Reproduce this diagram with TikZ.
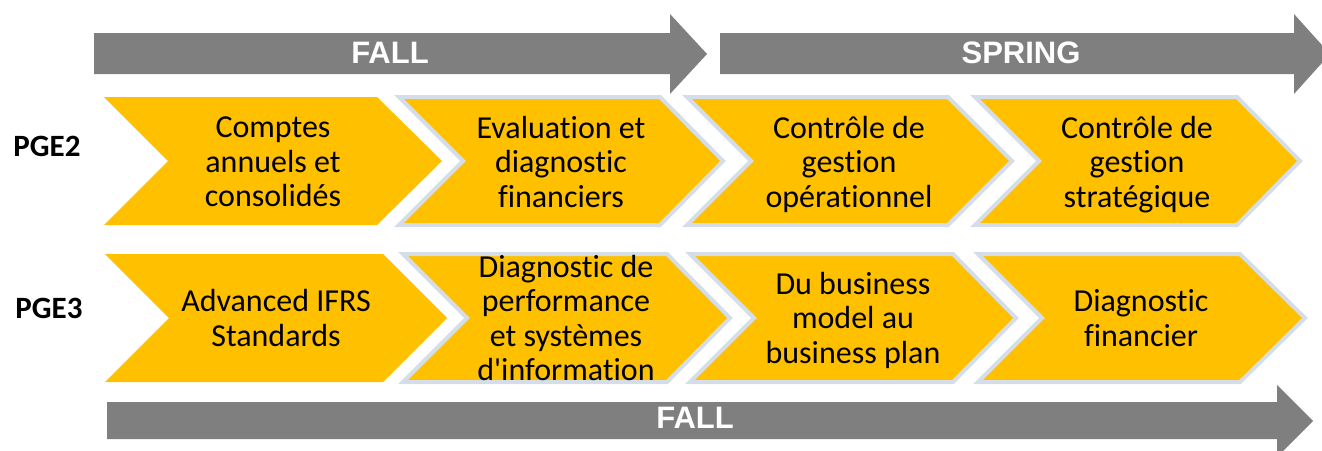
\documentclass[tikz,border=0pt]{standalone}
\usepackage{fontspec}
\setmainfont{Carlito}[Ligatures=CommonOff]
\newfontfamily\headfont{Liberation Sans}
\usepackage{xcolor}
\usetikzlibrary{positioning}
\definecolor{gold}{HTML}{FFC000}
\definecolor{bargray}{HTML}{7F7F7F}
\definecolor{edgeblue}{HTML}{D5DEE8}

\begin{document}
\begin{tikzpicture}[x=1pt, y=-1pt,
    chev/.style={fill=gold},
    chevedge/.style={fill=gold, draw=edgeblue, line width=4pt},
    bar/.style={fill=bargray},
    course/.style={align=center, inner sep=0pt, font=\fontsize{32}{34.5}\selectfont,
      execute at begin node=\strut, execute at end node=\strut},
    season/.style={text=white, inner sep=0pt, font=\headfont\bfseries\fontsize{31}{34}\selectfont},
    year/.style={inner sep=0pt, font=\bfseries\fontsize{31}{34}\selectfont}]
    \useasboundingbox (0,0) rectangle (1322,450);

    % semesters
    \fill[bar] (94,33) -- (670,33) -- (670,14) -- (707,54) -- (670,94) -- (670,74) -- (94,74) -- cycle;
    \fill[bar] (720,33) -- (1294,33) -- (1294,14) -- (1330,54) -- (1294,94) -- (1294,74) -- (720,74) -- cycle;
    \fill[bar] (107,402) -- (1277,402) -- (1277,385) -- (1313,421) -- (1277,457) -- (1277,439) -- (107,439) -- cycle;
    \node [season] (fall1) at (390,53) {FALL};
    \node [season] (spring) at (1021,53) {SPRING};
    \node [season] (fall2) at (695,418) {FALL};

    % PGE2
    \node [year] (pge2) at (47,146) {PGE2};
    \path[chev] (104,97) -- (377,97) -- (442,161) -- (377,225) -- (104,225) -- (168,161) -- cycle;
    \path[chevedge] (399,97) -- (660,97) -- (723,161) -- (660,225) -- (399,225) -- (463,161) -- cycle;
    \path[chevedge] (687,97) -- (948,97) -- (1012,161) -- (948,225) -- (687,225) -- (751,161) -- cycle;
    \path[chevedge] (975,97) -- (1237,97) -- (1300,161) -- (1237,225) -- (975,225) -- (1039,161) -- cycle;
    \node [course] (a1) at (273,167) {Comptes\\annuels et\\consolidés};
    \node [course] (a2) at (561,167) {Evaluation et\\diagnostic\\financiers};
    \node [course] (a3) at (849,167) {Contrôle de\\gestion\\opérationnel};
    \node [course] (a4) at (1137,167) {Contrôle de\\gestion\\stratégique};

    % PGE3
    \node [year] (pge3) at (49,308) {PGE3};
    \path[chev] (105,254) -- (383,254) -- (447,318) -- (383,382) -- (105,382) -- (169,318) -- cycle;
    \path[chevedge] (403,254) -- (667,254) -- (730,318) -- (667,382) -- (403,382) -- (467,318) -- cycle;
    \path[chevedge] (690,254) -- (953,254) -- (1016,318) -- (953,382) -- (690,382) -- (754,318) -- cycle;
    \path[chevedge] (978,254) -- (1240,254) -- (1305,318) -- (1240,382) -- (978,382) -- (1042,318) -- cycle;
    \node [course] (b1) at (276,323) {Advanced IFRS\\Standards};
    \node [course] (b2) at (566,323) {Diagnostic de\\performance\\et systèmes\\d\textquotesingle information};
    \node [course] (b3) at (853,323) {Du business\\model au\\business plan};
    \node [course] (b4) at (1141,323) {Diagnostic\\financier};
\end{tikzpicture}
\end{document}
